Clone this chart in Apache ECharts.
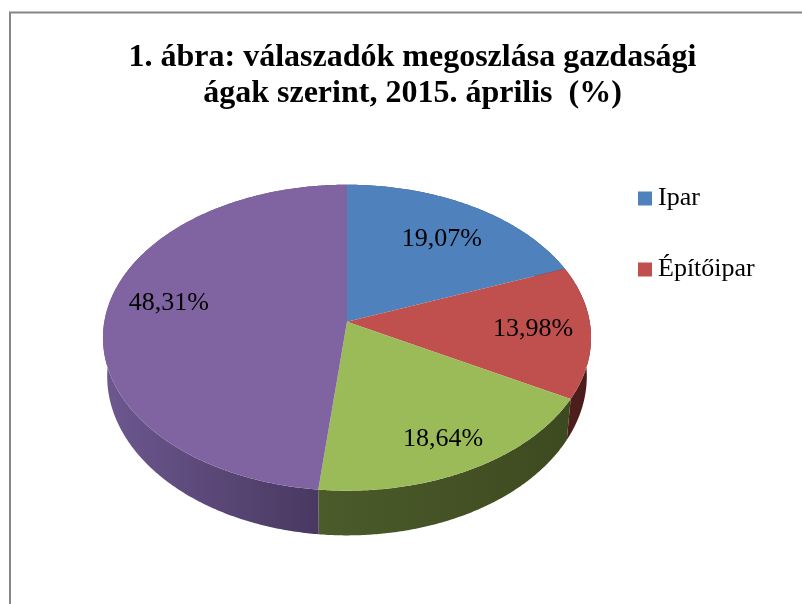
<!DOCTYPE html>
<html>
<head>
<meta charset="utf-8">
<style>html,body{margin:0;padding:0;background:#fff}#c{width:802px;height:604px}</style>
<script src="https://cdn.jsdelivr.net/npm/echarts@6/dist/echarts.min.js"></script>
</head>
<body>
<div id="c"></div>
<script>
const titleLines = ['1. ábra: válaszadók megoszlása gazdasági', 'ágak szerint, 2015. április  (%)'];
const categories = ['Ipar', 'Építőipar', 'Egyéb 1', 'Egyéb 2'];
const legendItems = ['Ipar', 'Építőipar'];
const values = [19.07, 13.98, 18.64, 48.31];

// styles
const topColors = ['#4f81bd', '#c0504d', '#9bbb59', '#8064a2'];
const sideStops = [
  ['#2a4468', '#2a4468'],
  ['#4f1f1c', '#4a1c1a'],
  ['#4b5b2a', '#3d4a20'],
  ['#6d5890', '#44345a']
];

// perspective projection of the pie's disc onto the page
const CX = 347, P = 0.1046;
const topPlane = {sx: 242.7, sy: 151.3, cy: 321.7};
const bottomPlane = {sx: 238.5, sy: 157.4, cy: 359.6};
const project = (deg, r, pl) => {
  const a = deg * Math.PI / 180, X = r * Math.sin(a), Y = -r * Math.cos(a), w = 1 - P * Y;
  return [CX + pl.sx * X / w, pl.cy + pl.sy * Y / w];
};
const arc = (a0, a1, pl) => {
  const n = Math.max(2, Math.ceil((a1 - a0) * 2)), pts = [];
  for (let i = 0; i <= n; i++) pts.push(project(a0 + (a1 - a0) * i / n, 1, pl));
  return pts;
};
const labelRadius = [0.72, 0.765, 0.80, 0.755];
const labelAngleShift = [0.9, -0.8, 0.2, 6.8];
const total = values.reduce((s, v) => s + v, 0);
const fmt = v => v.toFixed(2).replace('.', ',') + '%';

const renderSlice = (params, api) => {
  const i = params.seriesIndex, v = api.value(0);
  const before = values.slice(0, i).reduce((s, x) => s + x, 0);
  const a0 = before / total * 360, a1 = a0 + v / total * 360, mid = (a0 + a1) / 2;
  const topArc = arc(a0, a1, topPlane);
  const side = topArc.concat(arc(a0, a1, bottomPlane).reverse());
  const xs = side.map(p => p[0]);
  const lp = project(mid + labelAngleShift[i], labelRadius[i], topPlane);
  return {
    type: 'group',
    children: [
      {
        type: 'polygon', z2: 1,
        shape: {points: side},
        style: {fill: {type: 'linear', global: true,
          x: Math.min.apply(null, xs), y: 0, x2: Math.max.apply(null, xs), y2: 0,
          colorStops: [{offset: 0, color: sideStops[i][0]}, {offset: 1, color: sideStops[i][1]}]}}
      },
      {
        type: 'polygon', z2: 10,
        shape: {points: [[CX, topPlane.cy]].concat(topArc)},
        style: {fill: topColors[i]}
      },
      {
        type: 'text', z2: 20, x: lp[0], y: lp[1] + 1,
        style: {text: fmt(v), fill: '#000', font: '26px "Liberation Serif"', align: 'center', verticalAlign: 'middle'}
      }
    ]
  };
};

const chart = echarts.init(document.getElementById('c'), null, {renderer: 'canvas'});
chart.setOption({
  animation: false,
  backgroundColor: '#fff',
  title: {
    text: titleLines.join('\n'),
    left: 407.5, top: 35, textAlign: 'center',
    textStyle: {fontFamily: 'Liberation Serif', fontWeight: 'bold', fontSize: 32, lineHeight: 36, color: '#000'}
  },
  legend: {
    data: legendItems, orient: 'vertical', left: 638, top: 183,
    itemWidth: 14, itemHeight: 14, itemGap: 40, padding: 0,
    icon: 'rect',
    textStyle: {fontFamily: 'Liberation Serif', fontSize: 26, color: '#000', padding: [0, 0, 0, 1], lineHeight: 31}
  },
  graphic: [{
    type: 'polyline', silent: true, z: -1,
    shape: {points: [[10, 604], [10, 12.5], [802, 12.5]]},
    style: {stroke: '#868686', lineWidth: 2, fill: null}
  }],
  series: values.map((v, i) => ({
    type: 'custom', name: categories[i], coordinateSystem: 'none',
    data: [[v]], itemStyle: {color: topColors[i]},
    renderItem: renderSlice, silent: true
  }))
});
</script>
</body>
</html>
